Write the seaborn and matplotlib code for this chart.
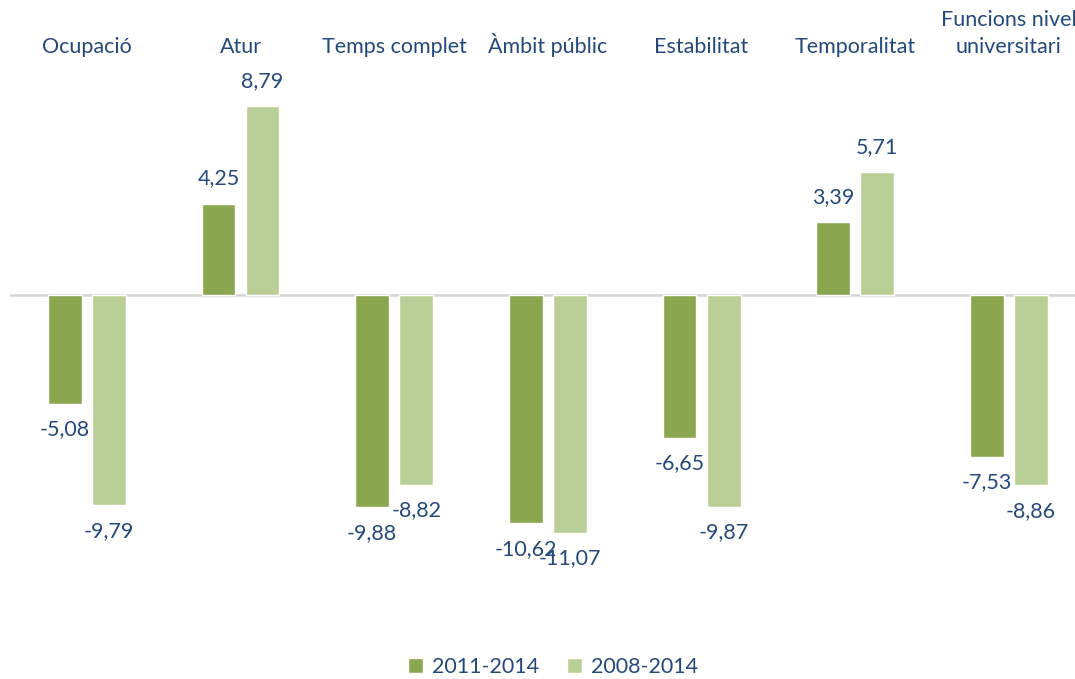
import pandas as pd
import matplotlib.pyplot as plt
import seaborn as sns

# dades
categories = ['Ocupació', 'Atur', 'Temps complet', 'Àmbit públic',
              'Estabilitat', 'Temporalitat', 'Funcions nivel\nuniversitari']
series = ['2011-2014', '2008-2014']
vals_2011_2014 = [-5.08, 4.25, -9.88, -10.62, -6.65, 3.39, -7.53]
vals_2008_2014 = [-9.79, 8.79, -8.82, -11.07, -9.87, 5.71, -8.86]

colors = {'2011-2014': '#8AA64F', '2008-2014': '#BACF97'}
text_color = '#24497B'
fs = 15.5

df = pd.DataFrame({
    'categoria': categories * 2,
    'periode': [series[0]] * len(categories) + [series[1]] * len(categories),
    'valor': vals_2011_2014 + vals_2008_2014,
})

sns.set_style('white')
plt.rcParams['font.family'] = ['Lato', 'DejaVu Sans']

fig = plt.figure(figsize=(10.75, 6.79), dpi=100)
ax = fig.add_axes([10 / 1075, 1 - 596 / 679, 1065 / 1075, 537.5 / 679])

sns.barplot(data=df, x='categoria', y='valor', hue='periode',
            order=categories, hue_order=series, palette=colors,
            width=0.573, gap=0.23, saturation=1, ax=ax)

# línia del zero
ax.axhline(0, color='#D4D4D4', lw=1.8, zorder=0.5)

# etiquetes de valor
for cont in ax.containers:
    labels = [f'{b.get_height():.2f}'.replace('.', ',') for b in cont]
    ax.bar_label(cont, labels=labels, padding=11, fontsize=fs, color=text_color)

ax.set_xlim(-0.5, 6.43)
ax.set_ylim(-14, 11)
ax.xaxis.tick_top()
ax.tick_params(axis='x', length=0, pad=1, labelsize=fs, labelcolor=text_color)
for t in ax.get_xticklabels():
    t.set_linespacing(1.45)
ax.set_yticks([])
ax.set_xlabel('')
ax.set_ylabel('')
for s in ax.spines.values():
    s.set_visible(False)

ax.legend(loc='center', bbox_to_anchor=(0.51, -71 / 537.5), ncol=2,
          frameon=False, fontsize=fs, labelcolor=text_color,
          handlelength=0.7, handleheight=0.7, handletextpad=0.4,
          columnspacing=1.3)

fig.savefig('out.png', dpi=100)
